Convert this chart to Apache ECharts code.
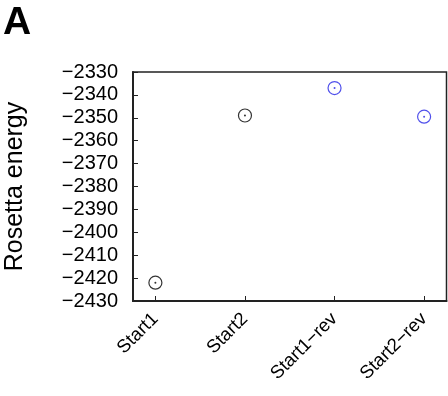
<!DOCTYPE html>
<html><head><meta charset="utf-8">
<script src="https://cdn.jsdelivr.net/npm/echarts@6/dist/echarts.min.js"></script>
<style>html,body{margin:0;padding:0;background:#fff}#c{width:448px;height:396px}</style>
</head><body><div id="c"></div>
<script>
const categories = ["Start1", "Start2", "Start1\u2212rev", "Start2\u2212rev"];
const energies = [-2422, -2349, -2337, -2349.5];
const pointColors = ["#000000", "#000000", "#2424e6", "#2424e6"];
const yTicks = [-2430, -2420, -2410, -2400, -2390, -2380, -2370, -2360, -2350, -2340, -2330];

const pts = energies.map((v, i) => ({ value: [i + 1, v], itemStyle: { borderColor: pointColors[i], color: 'rgba(0,0,0,0)' } }));
const dots = energies.map((v, i) => ({ value: [i + 1, v], itemStyle: { color: pointColors[i] } }));

const chart = echarts.init(document.getElementById('c'), null, { renderer: 'canvas' });
chart.setOption({
  animation: false,
  backgroundColor: '#fff',
  textStyle: { fontFamily: 'Liberation Sans, Arial, sans-serif' },
  title: { text: 'A', left: -2, top: -1, textStyle: { fontSize: 39, fontWeight: 'bold', color: '#000', fontFamily: 'Liberation Sans, Arial, sans-serif' } },
  grid: { left: 133, top: 72, right: 1.5, bottom: 95, show: true, borderColor: '#222', borderWidth: 1.5, backgroundColor: 'transparent', containLabel: false, outerBoundsMode: 'none' },
  xAxis: {
    type: 'value', min: 0.75, max: 4.25,
    axisLine: { show: true, onZero: false, lineStyle: { color: '#222', width: 2 } },
    axisTick: { show: true, inside: true, length: 5, customValues: [1, 2, 3, 4], lineStyle: { color: '#222' } },
    axisLabel: { customValues: [1, 2, 3, 4], rotate: 45, margin: 15, fontSize: 18.5, color: '#000',
      formatter: v => categories[Math.round(v) - 1] || '' },
    splitLine: { show: false }
  },
  yAxis: {
    type: 'value', min: yTicks[0], max: yTicks[yTicks.length - 1], interval: 10,
    name: 'Rosetta energy', nameLocation: 'middle', nameGap: 105, nameRotate: 90,
    nameTextStyle: { fontSize: 25, color: '#000' },
    axisLine: { show: true, onZero: false, lineStyle: { color: '#222', width: 2 } },
    axisTick: { show: true, inside: true, length: 5, lineStyle: { color: '#222' } },
    axisLabel: { fontSize: 20, color: '#000', margin: 15, formatter: v => String(v).replace('-', '\u2212') },
    splitLine: { show: false }
  },
  series: [
    { type: 'scatter', symbol: 'circle', symbolSize: 13, data: pts, itemStyle: { borderWidth: 1.2 } },
    { type: 'scatter', symbol: 'circle', symbolSize: 2, data: dots }
  ]
});
</script></body></html>
